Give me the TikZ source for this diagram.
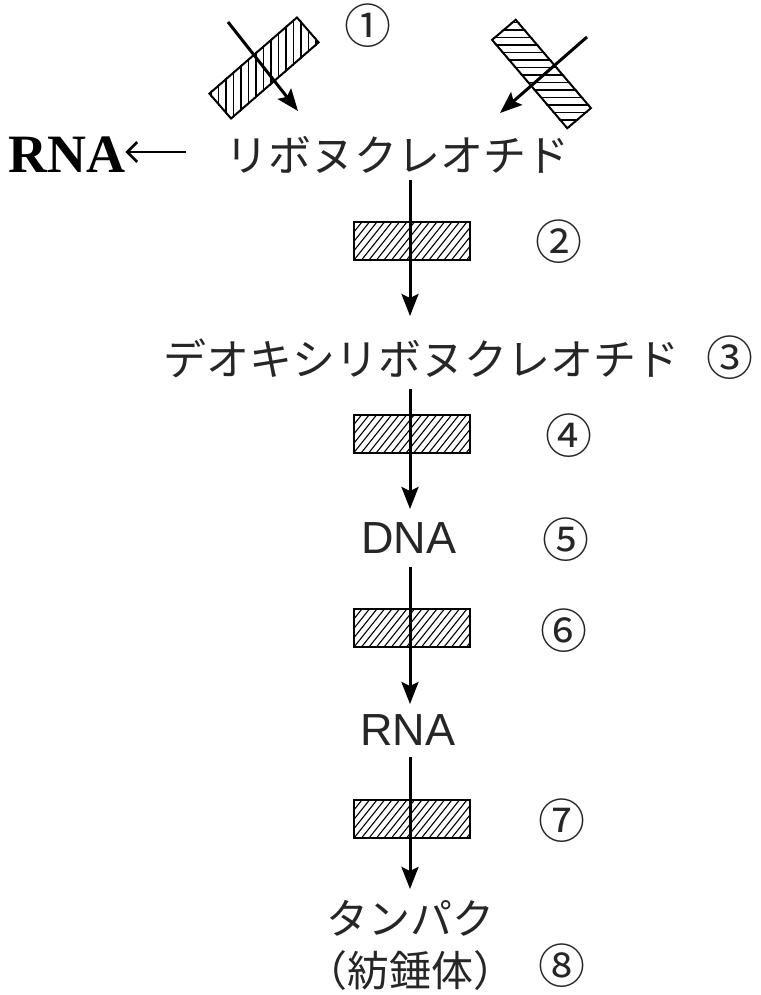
\documentclass[tikz,border=0pt]{standalone}
\usepackage{fontspec}
\usetikzlibrary{arrows.meta}
\newfontfamily\jpf{Noto Sans CJK JP}
\newfontfamily\serf{Liberation Serif}
\newfontfamily\sanf{Liberation Sans}
\begin{document}
\begin{tikzpicture}[x=1pt,y=-1pt,
  jp/.style={font={\jpf\fontsize{43}{46}\selectfont}, inner sep=0, text=black!85},
  num/.style={font={\jpf\fontsize{47}{49}\selectfont}, inner sep=0, text=black!85},
  lat/.style={font={\sanf\fontsize{45}{47}\selectfont}, inner sep=0, text=black!85},
  big/.style={font={\serf\bfseries\fontsize{54}{56}\selectfont}, inner sep=0},
  arr/.style={line width=3pt, -{Stealth[length=22pt,width=17pt,inset=4pt]}},
  larr/.style={line width=2.6pt, -{Straight Barb[length=10pt,width=20pt,line width=2.6pt]}},
  frame/.style={draw, line width=2pt, inner sep=0},
  hl/.style={line width=1.2pt},
  hrect/.style={draw, line width=2pt, minimum width=116pt, minimum height=38pt, inner sep=0,
    path picture={\foreach \i in {-6,...,18}{\draw[line width=1.1pt] ([xshift=\i*7.5pt]path picture bounding box.south west) -- ++(32pt,40pt);}}}
]
\useasboundingbox (0,0) rectangle (760,995);

% top crossed boxes
\node[frame, minimum width=116pt, minimum height=33pt, rotate=41] (b1) at (264,68) {};
\begin{scope}
  \clip (b1.north west) -- (b1.north east) -- (b1.south east) -- (b1.south west) -- cycle;
  \foreach \x in {196,203.5,...,340} \draw[hl] (\x,0) -- (\x,140);
\end{scope}
\node[frame, minimum width=116pt, minimum height=31pt, rotate=-49.6] (b2) at (541.5,74) {};
\begin{scope}
  \clip (b2.north west) -- (b2.north east) -- (b2.south east) -- (b2.south west) -- cycle;
  \foreach \y in {0,7.5,...,150} \draw[hl] (460,\y) -- (620,\y);
\end{scope}
\coordinate (t1s) at (228,22);
\coordinate (t1e) at (298,111);
\coordinate (t2s) at (587,37);
\coordinate (t2e) at (500,113);
\draw[arr] (t1s) -- (t1e);
\draw[arr] (t2s) -- (t2e);

% labels
\node[big, anchor=west] (rnaL) at (8,155) {RNA};
\coordinate (la) at (186,152);
\draw[larr] (la) -- (rnaL.east |- la);
\node[jp] (ribo) at (397,155) {リボヌクレオチド};
\node[jp] (deoxy) at (421,358) {デオキシリボヌクレオチド};
\node[lat] (dna) at (409,538) {DNA};
\node[lat] (rna) at (408,730) {RNA};
\node[jp, font={\jpf\fontsize{42}{45}\selectfont}] (prot) at (410,918) {タンパク};
\node[jp, font={\jpf\fontsize{42}{45}\selectfont}] (spin) at (410,971) {（紡錘体）};

\node[num] (n1) at (368,26) {①};
\node[num] (n2) at (559,242) {②};
\node[num] (n3) at (730,358) {③};
\node[num] (n4) at (569,436) {④};
\node[num] (n5) at (566,540) {⑤};
\node[num] (n6) at (564,631) {⑥};
\node[num] (n7) at (562,821) {⑦};
\node[num] (n8) at (562,966) {⑧};

% hatched blocks
\node[hrect] (r2) at (412,241) {};
\node[hrect] (r4) at (412,433.5) {};
\node[hrect] (r6) at (412,628) {};
\node[hrect] (r7) at (412,819) {};

% vertical arrows
\coordinate (s2) at (410,180); \coordinate (e2) at (410,316);
\coordinate (s4) at (410,389); \coordinate (e4) at (410,509);
\coordinate (s6) at (410,567); \coordinate (e6) at (410,704);
\coordinate (s7) at (410,757); \coordinate (e7) at (410,889);
\draw[arr] (s2) -- (e2);
\draw[arr] (s4) -- (e4);
\draw[arr] (s6) -- (e6);
\draw[arr] (s7) -- (e7);
\end{tikzpicture}
\end{document}
